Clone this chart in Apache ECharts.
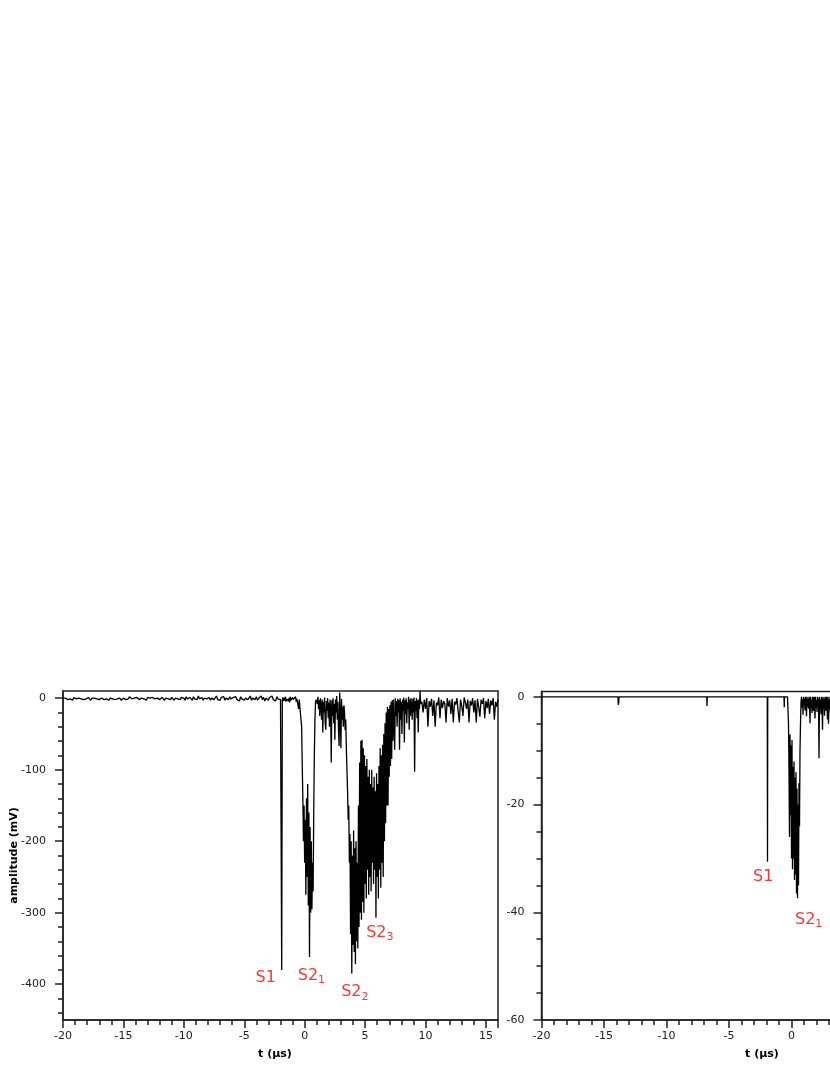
<!DOCTYPE html>
<html>
<head>
<meta charset="utf-8">
<script src="https://cdn.jsdelivr.net/npm/echarts@6/dist/echarts.min.js"></script>
<style>
  html, body { margin: 0; padding: 0; background: #fff; }
  #chart { width: 830px; height: 1075px; }
</style>
</head>
<body>
<div id="chart"></div>
<script>
// ---- left panel: full waveform (mV), sampled on a regular time grid (µs) ----
const leftBaseStart = -20, leftBaseStep = 0.1;
const leftBase = [
  0,-1,0,1,-2,0,-1,0,-3,1,0,-1,-2,0,1,-1,0,-2,0,-1,
  0,1,-1,-3,0,-1,0,2,-1,0,-2,-1,0,1,-2,0,-1,0,-3,0,
  1,-1,0,-2,0,-1,1,0,-3,-1,0,1,-2,0,-1,2,0,-1,-3,0,
  -1,1,0,-2,-1,0,2,-1,0,-3,1,-1,0,-2,1,0,-1,-2,0,1,
  -2,0,1,-1,-3,0,2,-1,0,-2,1,-1,-3,0,2,-1,0,-2,1,-1,
  0,-3,2,-1,-2,1,0,-3,2,-1,0,-2,3,-1,-2,1,-3,0,2,-1,
  -2,1,-3,0,2,-2,-1,3,-2,0,-3,1,-1,2,-3,0,1,-2,2,-1,
  -3,1,-1,2,-2,0,-4,2,-1,1,-3,0,2,-2,-1,3,-3,0,1,-2,
  2,-3,0,-1,3,-2,1,-4,0,2,-3,1,-1,3,-2,0,-4,2,-1,1,
  -2
];
const leftPulseStart = -1.95, leftPulseStep = 0.05;
const leftPulse = [
  -2,-380,-3,1,-4,0,-3,2,-5,-1,
  -3,1,-4,0,-6,2,-3,-1,-5,1,
  -2,-4,0,-3,2,-5,-1,-3,1,-15,
  -2,0,-4,-2,-40,-95,-140,-200,-150,-230,
  -170,-275,-140,-250,-120,-290,-160,-362,-180,-300,
  -200,-295,-230,-270,-160,-80,-30,-5,-2,0,
  -8,2,-15,-3,-25,0,-12,-30,-2,-48,
  -5,-20,1,-35,-44,-4,-18,0,-28,-6,
  -40,-2,-15,-90,-3,-25,0,-35,-8,-58,
  -2,-20,3,-30,-5,-45,-67,8,-22,-70,
  -1,-30,-12,-40,-10,-20,-45,-30,-70,-100,
  -130,-170,-150,-230,-190,-330,-200,-385,-220,-345,
  -185,-355,-210,-372,-200,-340,-230,-350,-150,-320,
  -90,-300,-60,-310,-58,-285,-70,-300,-80,-260,
  -95,-280,-85,-240,-110,-275,-100,-250,-120,-270,
  -100,-230,-125,-260,-110,-240,-130,-307,-105,-250,
  -120,-280,-95,-240,-70,-265,-80,-230,-65,-250,
  -50,-200,-35,-175,-20,-150,-12,-150,-15,-110,
  -10,-95,-5,-85,-3,-60,-2,-35,-72,0,
  -25,-4,-40,-1,-20,-3,-72,0,-30,-5,
  -50,-2,-18,1,-62,-3,-22,0,-35,-6,
  -15,2,-44,-2,-25,0,-12,-30,-1,-20,
  1,-103,-4,-18,0,-28,-3,-48,-2,-15,
  10,-8
];
const leftTailStart = 9.7, leftTailStep = 0.1;
const leftTail = [
  -5,-20,-2,-15,0,-40,-4,-12,-1,-25,
  -3,-40,-6,-10,1,-28,-2,-14,-4,-8,
  -34,0,-12,-3,-22,-1,-34,-5,-9,0,
  -18,-34,-2,-11,-25,1,-6,-15,-2,-34,
  -4,-10,0,-20,-3,-34,-1,-12,-26,-2,
  -8,0,-28,-4,-14,-1,-22,-3,-10,0,
  -30,-5,-12,-2
];

// ---- right panel: zoomed amplitude (mV) ----
const rightQuiet = [
  [-20,0],[-13.88,0],[-13.86,-1.5],[-13.84,0],[-13.82,-1.2],[-13.8,0],
  [-6.78,0],[-6.76,-1.7],[-6.74,0],[-1.94,0],[-1.92,-30.6],[-1.9,0],
  [-0.6,0],[-0.58,-1.9],[-0.56,0],[-0.32,0]
];
const rightPulseStart = -0.28, rightPulseStep = 0.04;
const rightPulse = [
  0,-5,-14,-26,-7,-22,-9,-30,-8,-32,
  -13,-30,-12,-34,-15,-33,-14,-36.5,-17,-37.4,
  -20,-35,-16,-24,-10,-5,-1,0,-2,-0.5,
  -3.3,0,-1.5,-0.3,-2.5,0,-1.2,-3.6,0,-1.8,
  -0.4,-2.2,0,-1,-4.9,0,-2,-0.5,-3,0,
  -1.4,-2.6,0,-1.2,-4,0,-2,-0.6,-2.8,0,
  -1.5,-0.3,-11.4,0,-2,-0.5,-3.2,0,-1.6,-6.1,
  0,-2.2,-0.4,-3.5,0,-1.2,-2.6,0,-1.8,-4.2,
  0,-5,-0.5,-2.4,0,-3,-1,-2
];

// tick values
const leftYTicks = [0, -100, -200, -300, -400];
const leftYMinor = [-20,-40,-60,-80,-120,-140,-160,-180,-220,-240,-260,-280,
                    -320,-340,-360,-380,-420,-440];
const rightYTicks = [0, -20, -40, -60];

// annotations: [main, subscript, t, amplitude]
const leftTags = [['S1', '', -4.03, -392], ['S2', '1', -0.53, -389],
                  ['S2', '2', 3.06, -412], ['S2', '3', 5.13, -329]];
const rightTags = [['S1', '', -3.04, -33.6], ['S2', '1', 0.32, -41.5]];

function expand(t0, dt, values) {
  return values.map((v, i) => [+(t0 + i * dt).toFixed(3), v]);
}

const leftWave = [].concat(
  expand(leftBaseStart, leftBaseStep, leftBase),
  expand(leftPulseStart, leftPulseStep, leftPulse),
  expand(leftTailStart, leftTailStep, leftTail)
);
const rightWave = rightQuiet.concat(expand(rightPulseStart, rightPulseStep, rightPulse));

const axisColor = '#222';
const font = 'DejaVu Sans';
const lineStyle = { color: axisColor, width: 1.5 };
const labelStyle = { color: axisColor, fontSize: 11, fontFamily: font };
const nameStyle = { color: '#000', fontSize: 11, fontWeight: 'bold', fontFamily: font };

function xAxisFor(gridIndex, shift) {
  return {
    type: 'value', gridIndex: gridIndex, min: -20, max: 16, interval: 5,
    axisLine: { onZero: false, lineStyle: lineStyle },
    axisTick: { length: 8, lineStyle: lineStyle },
    minorTick: { show: true, splitNumber: 5, length: 5, lineStyle: lineStyle },
    axisLabel: Object.assign({ margin: 11, showMaxLabel: false }, labelStyle),
    splitLine: { show: false },
    name: 't (µs)', nameLocation: 'middle', nameGap: 29, nameMoveOverlap: false,
    nameTextStyle: Object.assign({ padding: [0, shift, 0, 0] }, nameStyle)
  };
}

function tagSeries(xi, yi, tags) {
  return {
    type: 'scatter', xAxisIndex: xi, yAxisIndex: yi, symbolSize: 1, silent: true,
    itemStyle: { color: 'rgba(0,0,0,0)' },
    data: tags.map(([m, s, t, v]) => ({
      value: [t, v],
      name: s ? '{m|' + m + '}{s|' + s + '}' : '{m|' + m + '}'
    })),
    label: {
      show: true, position: [0, 0], align: 'left', verticalAlign: 'middle',
      formatter: p => p.name,
      rich: {
        m: { color: '#ff0000', fontSize: 16, fontFamily: font, lineHeight: 20 },
        s: { color: '#ff0000', fontSize: 11, fontFamily: font, verticalAlign: 'bottom' }
      }
    }
  };
}

const chart = echarts.init(document.getElementById('chart'));
chart.setOption({
  backgroundColor: '#fff',
  animation: false,
  grid: [
    { left: 63, top: 691, width: 435, height: 329, outerBoundsMode: 'none', containLabel: false,
      show: true, borderColor: axisColor, borderWidth: 1.5 },
    { left: 541.5, top: 691.5, width: 450, height: 328.5, outerBoundsMode: 'none', containLabel: false,
      show: true, borderColor: axisColor, borderWidth: 1.5 }
  ],
  xAxis: [xAxisFor(0, 11), xAxisFor(1, 9)],
  yAxis: [
    {
      type: 'value', gridIndex: 0, min: -450, max: 10, position: 'left',
      axisLine: { onZero: false, lineStyle: lineStyle },
      axisTick: { customValues: leftYTicks, length: 8, lineStyle: lineStyle },
      axisLabel: Object.assign({ customValues: leftYTicks, margin: 17 }, labelStyle),
      splitLine: { show: false },
      name: 'amplitude (mV)', nameLocation: 'middle', nameGap: 43, nameMoveOverlap: false,
      nameTextStyle: nameStyle
    },
    {
      type: 'value', gridIndex: 0, min: -450, max: 10, position: 'left',
      axisLine: { show: false, onZero: false },
      axisTick: { customValues: leftYMinor, length: 5, lineStyle: lineStyle },
      axisLabel: { show: false },
      splitLine: { show: false }
    },
    {
      type: 'value', gridIndex: 1, min: -60, max: 1, interval: 20, position: 'left',
      axisLine: { onZero: false, lineStyle: lineStyle },
      axisTick: { customValues: rightYTicks, length: 8, lineStyle: lineStyle },
      minorTick: { show: true, splitNumber: 4, length: 5, lineStyle: lineStyle },
      axisLabel: Object.assign({ customValues: rightYTicks, margin: 17 }, labelStyle),
      splitLine: { show: false }
    }
  ],
  series: [
    {
      type: 'line', xAxisIndex: 0, yAxisIndex: 0, data: leftWave,
      showSymbol: false, symbol: 'none', lineStyle: { color: '#000', width: 1.3 }
    },
    {
      type: 'line', xAxisIndex: 1, yAxisIndex: 2, data: rightWave,
      showSymbol: false, symbol: 'none', lineStyle: { color: '#000', width: 1.3 }
    },
    tagSeries(0, 0, leftTags),
    tagSeries(1, 2, rightTags)
  ]
});
</script>
</body>
</html>
